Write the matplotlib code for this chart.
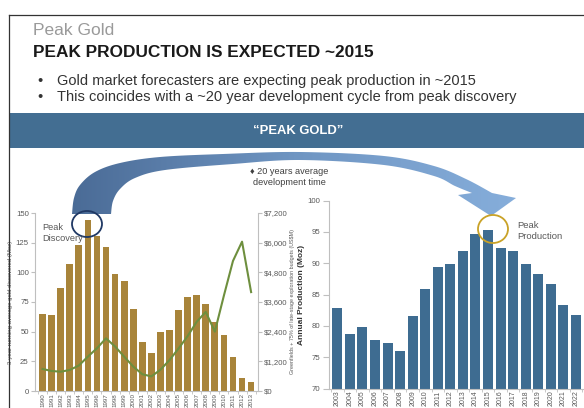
import numpy as np
import matplotlib.pyplot as plt
from matplotlib.patches import Rectangle, Ellipse, Polygon
from matplotlib.colors import LinearSegmentedColormap
from matplotlib.ticker import FuncFormatter, MultipleLocator

plt.rcParams['font.family'] = ['Liberation Sans', 'DejaVu Sans']

# discovery chart (left)
disc_years = [str(y) for y in range(1990, 2014)]
discovered = [65, 64, 87, 107, 123, 144, 131, 121, 99, 93, 69, 41, 32,
              50, 51, 68, 79, 81, 73, 58, 47, 29, 11, 8]
budget = [890, 810, 780, 850, 1030, 1390, 1730, 2130, 1800, 1390, 990, 680,
          590, 860, 1250, 1720, 2220, 2800, 3200, 2400, 3860, 5260, 6040, 4000]

# production chart (right)
prod_years = [str(y) for y in range(2003, 2023)]
production = [82.8, 78.7, 79.8, 77.8, 77.3, 76.0, 81.6, 85.9, 89.4, 89.8,
              91.9, 94.7, 95.3, 92.5, 91.9, 89.8, 88.3, 86.6, 83.4, 81.7]

W, H = 584, 408
GOLD = '#a8843a'
GREEN = '#6e8f3e'
BLUE = '#3e6c91'
GRID = '#bfbfbf'
TXT = '#595959'

fig = plt.figure(figsize=(W / 100, H / 100), dpi=100)


def fr(x0, y0, x1, y1):
    # pixel box (y down) -> figure fraction rect
    return [x0 / W, 1 - y1 / H, (x1 - x0) / W, (y1 - y0) / H]


def style(ax, sides):
    for s in ax.spines:
        ax.spines[s].set_visible(s in sides)
        ax.spines[s].set_color(GRID)
        ax.spines[s].set_linewidth(0.8)
    ax.patch.set_alpha(0)


# ---- left chart ----
ax1 = fig.add_axes(fr(35, 213, 258, 391))
x1 = np.arange(len(disc_years))
ax1.bar(x1, discovered, width=0.74, color=GOLD)
ax1.set_xlim(-0.83, 23.76)
ax1.set_ylim(0, 150)
ax1.yaxis.set_major_locator(MultipleLocator(25))
ax1.set_xticks(x1)
ax1.set_xticklabels(disc_years, rotation=90, fontsize=4.5, color=TXT)
ax1.set_xticks(np.arange(-0.5, 24, 1), minor=True)
ax1.tick_params(axis='x', which='major', length=0, pad=1.5)
ax1.tick_params(axis='x', which='minor', length=2, color=GRID)
ax1.tick_params(axis='y', labelsize=5.6, labelcolor=TXT, length=3, color=GRID, pad=1.5)
ax1.set_ylabel('3-year running average gold discovered (Moz)', fontsize=4.3,
               color=TXT, labelpad=2)
style(ax1, ['left', 'bottom'])

ax2 = ax1.twinx()
ax2.plot(x1, budget, color=GREEN, lw=1.5)
ax2.set_ylim(0, 7200)
ax2.yaxis.set_major_locator(MultipleLocator(1200))
ax2.yaxis.set_major_formatter(FuncFormatter(lambda v, p: f'${v:,.0f}'))
ax2.tick_params(axis='y', labelsize=5.6, labelcolor=TXT, length=3, color=GRID, pad=1.5)
ax2.set_ylabel('Greenfields + 75% of late-stage exploration budgets (US$M)',
               fontsize=3.9, color=TXT, labelpad=1.5)
style(ax2, ['right'])

# ---- right chart ----
ax3 = fig.add_axes(fr(329, 200.5, 584, 388.5))
x3 = np.arange(len(prod_years))
ax3.bar(x3, production, width=0.8, color=BLUE)
ax3.set_xlim(-0.66, 19.64)
ax3.set_ylim(70, 100)
ax3.yaxis.set_major_locator(MultipleLocator(5))
ax3.set_xticks(x3)
ax3.set_xticklabels(prod_years, rotation=90, fontsize=5, color=TXT)
ax3.set_xticks(np.arange(-0.5, 20, 1), minor=True)
ax3.tick_params(axis='x', which='major', length=0, pad=1.5)
ax3.tick_params(axis='x', which='minor', length=2, color=GRID)
ax3.tick_params(axis='y', labelsize=5.6, labelcolor=TXT, length=4, color=GRID, pad=2)
ax3.set_ylabel('Annual Production (Moz)', fontsize=6, fontweight='bold',
               color='#333333', labelpad=2)
style(ax3, ['left', 'bottom'])

# ---- slide overlay ----
ov = fig.add_axes([0, 0, 1, 1], zorder=10)
ov.patch.set_alpha(0)

# slide border
ov.plot([9, W], [15, 15], color='#333333', lw=0.9)
ov.plot([9, 9], [15, H], color='#333333', lw=0.9)

ov.text(33, 35, 'Peak Gold', fontsize=12.5, color='#9a9a9a')
ov.text(33, 57, 'PEAK PRODUCTION IS EXPECTED ~2015', fontsize=12.4,
        fontweight='bold', color='#1a1a1a')
bullets = ['Gold market forecasters are expecting peak production in ~2015',
           'This coincides with a ~20 year development cycle from peak discovery']
for i, b in enumerate(bullets):
    yb = 85 + i * 16
    ov.text(37, yb, '•', fontsize=10.5, color='#333333')
    ov.text(57, yb, b, fontsize=10.5, color='#333333')

ov.add_patch(Rectangle((10, 113), W - 10, 35, color='#436e92', lw=0))
ov.text(298.5, 131, '\u201cPEAK GOLD\u201d', fontsize=9.4, fontweight='bold',
        color='white', ha='center', va='center')


def smooth(pts, n=16):
    pts = np.asarray(pts, float)
    p = np.vstack([pts[0], pts, pts[-1]])
    out = []
    t = np.linspace(0, 1, n, endpoint=False)[:, None]
    for i in range(1, len(p) - 2):
        p0, p1, p2, p3 = p[i - 1], p[i], p[i + 1], p[i + 2]
        out.append(0.5 * (2 * p1 + (-p0 + p2) * t
                          + (2 * p0 - 5 * p1 + 4 * p2 - p3) * t ** 2
                          + (-p0 + 3 * p1 - 3 * p2 + p3) * t ** 3))
    out.append(pts[-1:])
    return np.vstack(out)


outer = smooth([(72, 214), (74, 198), (80, 185), (95, 172), (120, 163),
                (160, 157), (223, 154), (300, 152), (384, 156), (434, 166),
                (466, 179), (492, 193)])
head = np.array([(516, 198), (491, 216), (458, 195), (472, 193)])
inner = smooth([(472, 193), (455, 186), (434, 176), (384, 165), (300, 160),
                (233, 164), (165, 170), (135, 178), (120, 189), (113, 201),
                (111, 214)])
shape = Polygon(np.vstack([outer, head, inner]), closed=True, fc='none', ec='none')
ov.add_patch(shape)
cmap = LinearSegmentedColormap.from_list('arc', ['#4a6b96', '#6f95c2', '#86aedb'])
grad = np.linspace(0, 1, 256)[None, :]
im = ov.imshow(grad, cmap=cmap, extent=(70, 518, 218, 148), aspect='auto',
               interpolation='bilinear', zorder=1)
im.set_clip_path(shape)

ov.text(289.5, 172, '\u2666 20 years average', fontsize=6.6, color='#404040',
        ha='center', va='center')
ov.text(289.5, 182.5, 'development time', fontsize=6.6, color='#404040',
        ha='center', va='center')

ov.add_patch(Ellipse((87, 224), 30, 26, fc='none', ec='#1f3864', lw=1.3, zorder=3))
ov.add_patch(Ellipse((493, 229), 30, 28, fc='none', ec='#c9a227', lw=1.3, zorder=3))
ov.text(42, 223, 'Peak\nDiscovery', fontsize=6.7, color=TXT, va='top',
        linespacing=1.25)
ov.text(517, 221, 'Peak\nProduction', fontsize=6.8, color=TXT, va='top',
        linespacing=1.25)

ov.set_xlim(0, W)
ov.set_ylim(H, 0)
ov.axis('off')

fig.savefig('out.png', dpi=100)
